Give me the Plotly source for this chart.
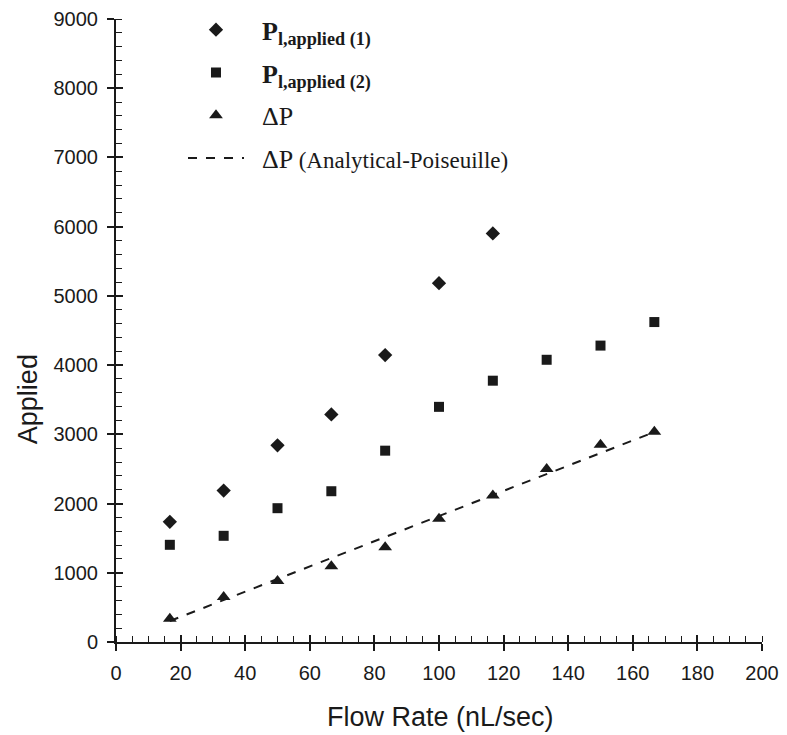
import plotly.graph_objects as go

flow_rate = [16.67, 33.33, 50, 66.67, 83.33, 100, 116.67, 133.33, 150, 166.67]
p_applied_1 = [1736, 2188, 2841, 3288, 4145, 5184, 5903]
p_applied_2 = [1404, 1534, 1933, 2178, 2764, 3397, 3775, 4077, 4282, 4622]
delta_p = [337, 649, 880, 1096, 1370, 1779, 2115, 2500, 2851, 3038]
delta_p_analytical = [303, 607, 910, 1213, 1517, 1820, 2123, 2427, 2730, 3033]

x_ticks = list(range(0, 201, 20))
y_ticks = list(range(0, 9001, 1000))
x_title = "Flow Rate (nL/sec)"
y_title = "Applied"

INK = "#1a1a1a"
SANS = "Liberation Sans, Arial"
SERIF = "Liberation Serif, Times New Roman"
PAD = "\u00a0\u00a0"
SUBPAD = "<sub>\u00a0</sub>"

fig = go.Figure()
fig.add_trace(go.Scatter(
    x=flow_rate[:len(p_applied_1)], y=p_applied_1, mode="markers",
    marker=dict(symbol="diamond", size=11, color=INK),
    name=PAD + "<b>P<sub>l,applied (1)</sub></b>", legendgroup="a"))
fig.add_trace(go.Scatter(
    x=flow_rate, y=p_applied_2, mode="markers",
    marker=dict(symbol="square", size=10, color=INK),
    name=PAD + "<b>P<sub>l,applied (2)</sub></b>", legendgroup="b"))
fig.add_trace(go.Scatter(
    x=flow_rate, y=delta_p, mode="markers",
    marker=dict(symbol="triangle-up", size=12, color=INK),
    name=PAD + "ΔP" + SUBPAD, legendgroup="c"))
fig.add_trace(go.Scatter(
    x=flow_rate, y=delta_p_analytical, mode="lines",
    line=dict(color=INK, width=2, dash="dash"),
    name=PAD + "ΔP <span style='font-size:23px'>(Analytical-Poiseuille)</span>" + SUBPAD,
    legendgroup="d"))
# empty trace that carries the overlay axes (inner halves of major ticks)
fig.add_trace(go.Scatter(x=[], y=[], xaxis="x2", yaxis="y2", showlegend=False, hoverinfo="skip"))

axis_common = dict(
    showline=True, linecolor=INK, linewidth=2,
    showgrid=False, zeroline=False, automargin=False,
    ticks="outside", ticklen=7, tickwidth=1.6, tickcolor=INK,
    tickfont=dict(family=SANS, size=20, color=INK),
    mirror=False,
)

fig.update_layout(
    xaxis=dict(**axis_common, range=[0, 200], tickvals=x_ticks, ticklabelstandoff=5,
               minor=dict(dtick=5, ticks="inside", ticklen=6, tickwidth=1.4, tickcolor=INK)),
    yaxis=dict(**axis_common, range=[0, 9000], tickvals=y_ticks, ticklabelstandoff=5,
               minor=dict(dtick=200, ticks="inside", ticklen=6, tickwidth=1.4, tickcolor=INK)),
    xaxis2=dict(overlaying="x", anchor="y2", range=[0, 200], tickvals=x_ticks,
                ticks="inside", ticklen=7, tickwidth=1.6, tickcolor=INK,
                showticklabels=False, showline=False, showgrid=False, zeroline=False, side="bottom"),
    yaxis2=dict(overlaying="y", anchor="x2", range=[0, 9000], tickvals=y_ticks,
                ticks="inside", ticklen=7, tickwidth=1.6, tickcolor=INK,
                showticklabels=False, showline=False, showgrid=False, zeroline=False, side="left"),
)

fig.add_annotation(text=x_title, xref="paper", yref="paper", x=0.503, y=-0.121,
                   xanchor="center", yanchor="middle", showarrow=False,
                   font=dict(family=SANS, size=27, color=INK))
fig.add_annotation(text=y_title, xref="paper", yref="paper", x=-0.136, y=0.39,
                   xanchor="center", yanchor="middle", showarrow=False, textangle=-90,
                   font=dict(family=SANS, size=27, color=INK))

# the page body adds an 8px offset; margins compensate so the plot area lands at 116..762 x 19..642
fig.update_layout(
    width=787, height=735,
    margin=dict(l=108, r=33, t=11, b=101, autoexpand=False),
    plot_bgcolor="white", paper_bgcolor="white",
    showlegend=True,
    legend=dict(
        x=0.1037, y=1.0204, xanchor="left", yanchor="top",
        font=dict(family=SERIF, size=26, color=INK),
        bgcolor="rgba(0,0,0,0)", tracegroupgap=6, traceorder="grouped",
        itemwidth=56,
    ),
)

fig.write_html("out.html")
